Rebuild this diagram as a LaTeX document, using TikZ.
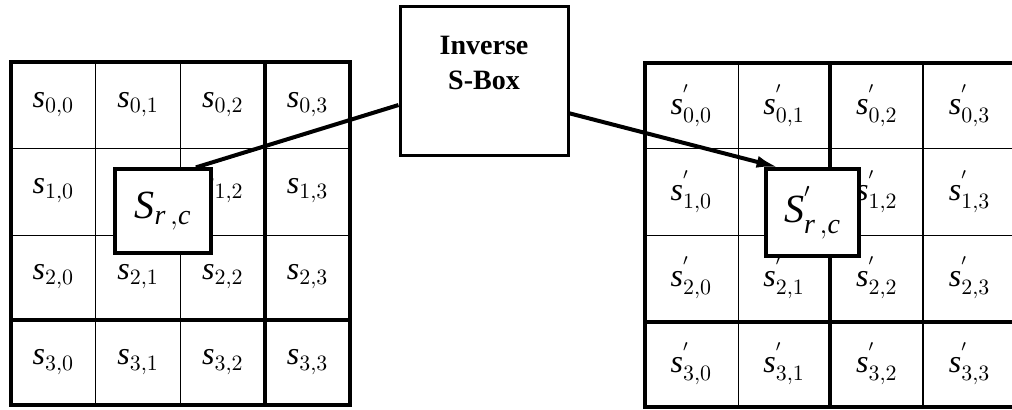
\documentclass[tikz,border=0pt]{standalone}
\usepackage{fontspec}
\setmainfont{Liberation Serif}
\usetikzlibrary{arrows.meta}
\tikzset{cell/.style={inner sep=0pt, font=\fontsize{16}{18}\selectfont},
    pick/.style={
    draw=black,
    fill=white,
    line width=1.6pt,
    inner sep=0pt,
    font=\fontsize{20}{22}\selectfont,
    },
    sbox/.style={
    draw=black,
    line width=1.5pt,
    minimum width=84pt,
    minimum height=74.5pt,
    inner sep=0pt,
    align=center,
    font=\bfseries\fontsize{14}{17.5}\selectfont,
    },
    thin grid/.style={line width=0.5pt},
    mid grid/.style={line width=0.9pt},
    thick grid/.style={line width=1.6pt},
    link/.style={line width=2pt},
}
\begin{document}
\begin{tikzpicture}[x=0.5pt,y=-0.5pt]
\useasboundingbox (0,0) rectangle (1012,409);
% state before
\foreach \x in {95,180} \draw[thin grid] (\x,62) -- (\x,405);
\foreach \y in {148,235} \draw[thin grid] (11,\y) -- (350,\y);
\draw[thick grid] (265,62) -- (265,405);
\draw[thick grid] (11,320) -- (350,320);
\draw[thick grid] (11,62) rectangle (350,405); % border
\foreach \r in {0,...,3}
  \foreach \c in {0,...,3}{
    \ifnum\r\c=11\else % hidden under the picked byte
    \node[cell] (L\r\c) at ({11+(\c+0.5)*84.75},{62+(\r+0.5)*85.75}) {$\mathit{s}_{\r,\c}$};
    \fi}
% state after
\foreach \x in {738} \draw[thin grid] (\x,63) -- (\x,407);
\foreach \y in {148,235} \draw[thin grid] (645,\y) -- (1016,\y);
\draw[mid grid] (923,63) -- (923,407);
\draw[thick grid] (830,63) -- (830,407);
\draw[thick grid] (645,322) -- (1016,322);
\draw[thick grid] (645,63) rectangle (1016,407); % border
\foreach \r in {0,...,3}
  \foreach \c in {0,...,3}{
    \ifnum\r\c=11\else
    \node[cell] (R\r\c) at ({645+(\c+0.5)*92.75},{63+(\r+0.5)*86}) {$\mathit{s}^{'}_{\r,\c}$};
    \fi}
% picked bytes and the box
\node[pick, minimum width=48pt, minimum height=42pt] (lpick) at (163,211) {$\mathit{S}_{\mathit{r}\,,\mathit{c}}$};
\node[sbox] (isbox) at (484,80.5) {Inverse\\S-Box\\~};
\node[pick, minimum width=46.5pt, minimum height=43.5pt] (rpick) at (812.5,212.5) {$\mathit{S}^{'}_{\mathit{r}\,,\mathit{c}}$};
\draw[link] (lpick.53) -- (isbox.196);
\draw[link, -{Latex[length=11pt,width=6pt]}] (isbox.339) -- (rpick.127);
\end{tikzpicture}
\end{document}
